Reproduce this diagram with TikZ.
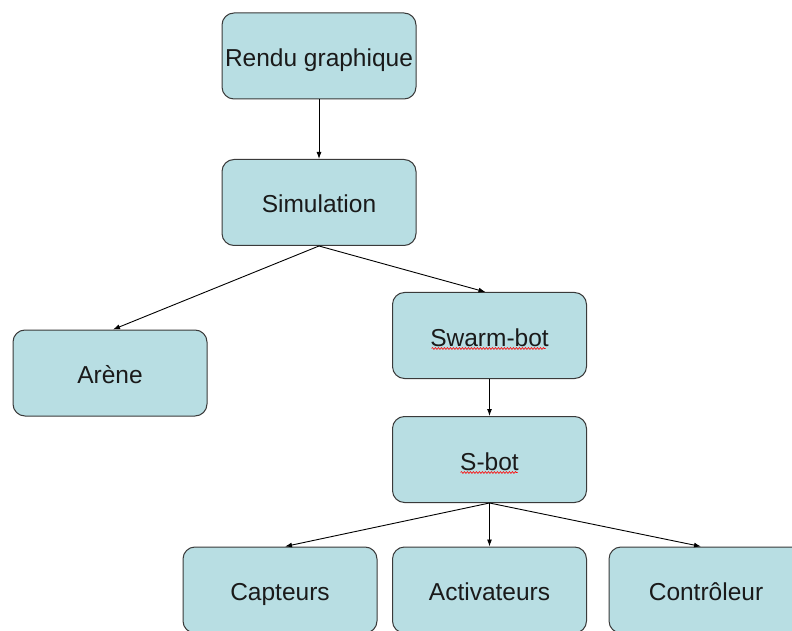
\documentclass[tikz,border=0pt]{standalone}
\usepackage{fontspec}
\setmainfont{Liberation Sans}
\usetikzlibrary{arrows.meta,decorations.pathmorphing}
\definecolor{boxfill}{HTML}{B8DEE3}
\definecolor{boxline}{HTML}{3A3A3A}
\definecolor{txt}{HTML}{1A1A1A}
\tikzset{
  box/.style={draw=boxline, line width=1pt, fill=boxfill, rounded corners=12pt,
    minimum width=194pt, minimum height=86pt, inner sep=0pt,
    text height=24pt, text depth=3pt,
    font=\fontsize{24.5}{28}\selectfont, text=txt},
  conn/.style={draw=black, line width=0.9pt, -{Latex[length=7pt,width=5pt]}},
  spell/.style={draw=red, line width=0.6pt, decorate,
    decoration={snake, amplitude=0.9pt, segment length=3pt}}
}
\begin{document}
\begin{tikzpicture}[x=1pt,y=1pt]
\useasboundingbox (0,0) rectangle (792,630);
\fill[white] (0,0) rectangle (792,630);
\node[box] (rendu) at (319,574) {Rendu graphique};
\node[box] (sim) at (319,427.5) {Simulation};
\node[box] (arene) at (110,257) {Arène};
\node[box] (swarm) at (489.5,294.5) {Swarm-bot};
\node[box] (sbot) at (489.5,170.5) {S-bot};
\node[box] (capt) at (280,40) {Capteurs};
\node[box] (activ) at (489.5,40) {Activateurs};
\node[box] (ctrl) at (706,40) {Contrôleur};
\draw[conn] (rendu.south) -- (sim.north);
\draw[conn] (sim.south) -- ([xshift=3pt]arene.north);
\draw[conn] (sim.south) -- ([xshift=-4pt]swarm.north);
\draw[conn] (swarm.south) -- (sbot.north);
\draw[conn] (sbot.south) -- ([xshift=5pt]capt.north);
\draw[conn] (sbot.south) -- (activ.north);
\draw[conn] (sbot.south) -- ([xshift=-5pt]ctrl.north);
\draw[spell] ([xshift=-58pt,yshift=-13pt]swarm.center) -- ([xshift=56pt,yshift=-13pt]swarm.center);
\draw[spell] ([xshift=-29pt,yshift=-13pt]sbot.center) -- ([xshift=28pt,yshift=-13pt]sbot.center);
\end{tikzpicture}
\end{document}
